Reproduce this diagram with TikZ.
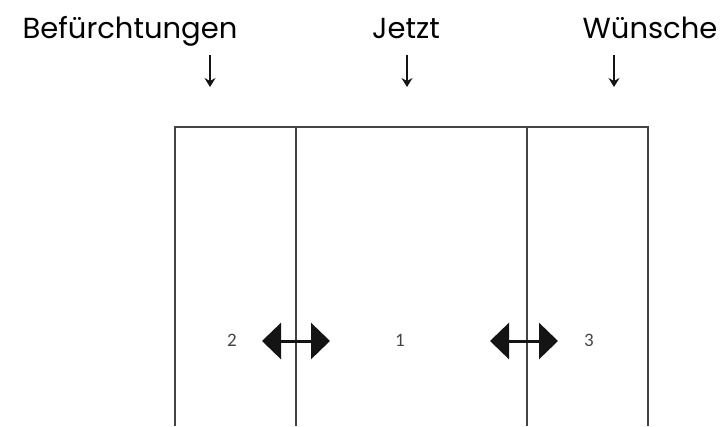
\documentclass[tikz,border=0pt]{standalone}
\usepackage{fontspec}
\setmainfont{Poppins}
\newfontfamily\numberfont{Carlito}
\usetikzlibrary{arrows.meta, positioning}
\definecolor{FrameGray}{HTML}{444444}
\definecolor{SwapBlack}{HTML}{141414}

\begin{document}
\begin{tikzpicture}[x=1pt, y=-1pt,
    heading/.style={font=\fontsize{29}{34}\selectfont, inner sep=0pt, anchor=base},
    pointer/.style={SwapBlack, line width=1.4pt, -{Stealth[width=11pt,length=9pt,inset=3pt]}},
    fieldno/.style={font=\numberfont\fontsize{19}{21}\selectfont, text=FrameGray, inner sep=0pt},
    swapper/.style={SwapBlack, line width=3pt,
        {Triangle[width=36pt,length=19pt]}-{Triangle[width=36pt,length=19pt]}}
]
    \useasboundingbox (0,0) rectangle (723,426);

    % Headings over the three fields
    \node[heading] (fears)  at (130,38) {Befürchtungen};
    \node[heading] (now)    at (406,38) {Jetzt};
    \node[heading] (wishes) at (650,38) {Wünsche};

    % Pointers below the headings
    \foreach \x/\n in {210/fears, 407/now, 614/wishes} {
        \coordinate (\n-from) at (\x,55);
        \coordinate (\n-to)   at (\x,87);
        \draw[pointer] (\n-from) -- (\n-to);
    }

    % Frame: outer border and the two inner dividers
    \coordinate (tl) at (175,127);
    \coordinate (tr) at (648,127);
    \draw[FrameGray, line width=1.8pt] (175,426) -- (tl) -- (tr) -- (648,426);
    \foreach \x in {296, 527} {
        \draw[FrameGray, line width=1.8pt] (\x,127) -- (\x,426);
    }

    % Field numbers
    \node[fieldno] (f2) at (232,340) {2};
    \node[fieldno] (f1) at (400,340) {1};
    \node[fieldno] (f3) at (589,340) {3};

    % Exchange arrows across the dividers
    \coordinate (la) at (262,341);
    \coordinate (lb) at (330,341);
    \coordinate (ra) at (490,341);
    \coordinate (rb) at (558,341);
    \draw[swapper] (la) -- (lb);
    \draw[swapper] (ra) -- (rb);
\end{tikzpicture}
\end{document}
